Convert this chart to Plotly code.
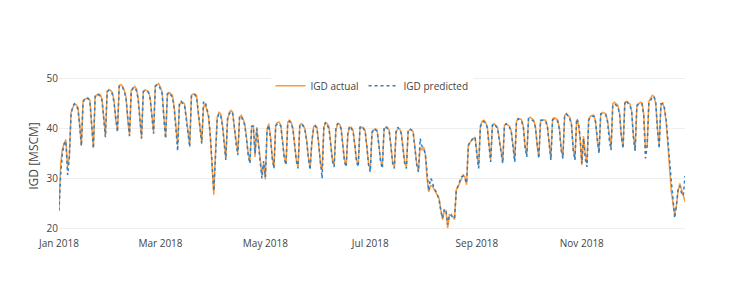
import pandas as pd
import plotly.graph_objects as go

# Daily dates for 2018
dates = pd.date_range("2018-01-01", "2018-12-31", freq="D")

# IGD actual, read week by week (Mon..Sun)
igd_actual = [
    24.0, 33.0, 36.0, 37.0, 37.8, 32.3, 34.5,
    43.3, 44.3, 45.0, 44.8, 44.3, 41.0, 36.7,
    45.7, 46.0, 46.1, 46.2, 45.7, 40.7, 36.3,
    46.3, 46.8, 47.0, 46.8, 46.0, 41.7, 38.7,
    47.3, 47.9, 47.7, 47.3, 45.7, 41.7, 39.7,
    48.7, 48.9, 48.5, 47.7, 46.3, 41.7, 38.7,
    47.7, 48.0, 48.5, 48.0, 46.3, 41.7, 38.3,
    47.3, 47.8, 47.7, 47.5, 46.3, 42.3, 39.3,
    48.7, 49.0, 49.1, 48.3, 47.3, 42.3, 38.3,
    46.7, 47.3, 47.0, 46.7, 44.3, 40.3, 36.7,
    44.7, 45.3, 45.3, 45.0, 42.3, 39.0, 36.7,
    46.7, 47.0, 47.0, 46.7, 43.0, 39.7, 37.3,
    44.3, 45.0, 43.7, 42.3, 38.3, 31.7, 26.7,
    35.0, 42.3, 43.3, 43.0, 41.0, 37.0, 34.0,
    41.7, 43.3, 43.7, 43.3, 40.0, 37.0, 35.2,
    42.3, 42.7, 42.0, 41.0, 38.3, 35.0, 33.3,
    40.3, 40.7, 34.3, 40.3, 37.0, 33.3, 30.7,
    33.0, 29.8, 40.0, 41.0, 38.3, 34.3, 32.3,
    40.7, 41.3, 41.3, 40.7, 37.7, 34.3, 33.0,
    41.3, 41.7, 41.3, 40.0, 37.0, 33.7, 32.3,
    40.7, 41.0, 40.7, 40.0, 37.7, 34.3, 32.0,
    37.0, 40.3, 40.7, 40.3, 37.0, 33.0, 31.7,
    40.3, 41.1, 41.0, 40.3, 37.0, 33.7, 32.7,
    39.7, 41.0, 41.0, 40.3, 37.3, 33.7, 32.7,
    39.0, 40.3, 40.3, 39.7, 37.0, 33.7, 32.7,
    40.0, 40.3, 40.2, 39.7, 36.7, 33.0, 31.7,
    39.0, 39.8, 40.0, 39.7, 37.0, 33.7, 32.3,
    39.7, 40.3, 40.3, 39.7, 36.7, 33.3, 32.3,
    39.3, 40.0, 40.0, 39.3, 36.7, 33.3, 32.3,
    39.3, 39.8, 39.8, 39.3, 36.3, 33.0, 31.5,
    36.3, 35.7, 36.3, 35.0, 30.0, 27.3, 28.5,
    28.5, 27.8, 27.3, 26.5, 26.0, 23.7, 21.7,
    23.3, 23.5, 20.0, 22.7, 22.5, 22.3, 21.7,
    27.7, 28.3, 29.0, 30.0, 30.7, 30.3, 28.7,
    36.7, 37.3, 37.7, 38.0, 38.3, 35.0, 32.3,
    40.5, 41.5, 41.7, 41.3, 40.5, 37.0, 33.7,
    40.5, 41.0, 40.7, 40.3, 38.0, 36.0, 33.3,
    40.7, 41.0, 40.7, 40.5, 39.5, 36.0, 33.7,
    41.5, 42.0, 42.0, 41.8, 40.5, 36.5, 34.7,
    42.0, 42.3, 42.0, 41.7, 40.5, 36.5, 34.3,
    41.5, 41.8, 41.7, 41.7, 40.5, 36.5, 34.0,
    42.0, 42.2, 42.0, 41.7, 40.0, 36.0, 34.3,
    42.7, 43.0, 42.7, 42.3, 41.0, 36.0, 34.0,
    41.7, 41.0, 38.0, 32.7, 38.5, 35.0, 33.0,
    42.0, 42.5, 42.7, 42.7, 41.5, 37.5, 35.3,
    43.0, 43.3, 43.2, 43.0, 41.5, 38.0, 36.0,
    45.0, 45.3, 45.0, 44.7, 43.0, 38.5, 36.3,
    45.3, 45.5, 45.3, 45.0, 43.5, 38.5, 35.7,
    44.3, 45.0, 45.3, 45.2, 43.0, 36.0, 36.5,
    45.5, 46.0, 46.7, 46.5, 45.0, 40.0, 36.7,
    44.5, 45.3, 44.0, 41.5, 37.0, 31.0, 27.5,
    25.0, 22.7, 24.5, 27.5, 29.0, 27.7, 26.5,
    25.3,
]

# IGD predicted
igd_predicted = [
    23.5, 31.0, 35.0, 37.0, 37.5, 30.7, 34.0,
    42.8, 44.5, 45.0, 44.5, 44.0, 40.5, 36.5,
    45.3, 46.0, 46.3, 46.0, 45.3, 40.3, 36.0,
    46.5, 47.0, 46.8, 46.5, 45.7, 41.3, 38.3,
    47.5, 47.7, 47.5, 47.0, 45.3, 41.5, 39.3,
    48.5, 48.7, 48.3, 47.5, 46.0, 41.3, 38.5,
    47.5, 48.2, 48.3, 47.7, 46.0, 41.5, 38.0,
    47.5, 47.7, 47.5, 47.3, 46.0, 42.0, 39.0,
    48.5, 48.8, 48.8, 48.0, 47.0, 42.0, 38.0,
    47.0, 47.3, 46.8, 46.3, 44.0, 40.0, 35.5,
    45.0, 45.5, 45.0, 44.7, 42.0, 38.7, 36.3,
    46.5, 47.0, 46.8, 46.3, 43.3, 39.5, 37.0,
    45.3, 45.5, 44.0, 42.5, 38.5, 32.0, 27.5,
    34.5, 42.0, 43.0, 42.7, 40.7, 36.7, 33.7,
    42.0, 43.0, 43.5, 43.0, 40.3, 36.7, 34.7,
    42.5, 42.5, 41.7, 40.7, 38.0, 34.7, 33.0,
    40.5, 40.5, 35.0, 40.0, 36.7, 33.0, 30.0,
    33.5, 30.3, 39.7, 40.7, 38.0, 34.0, 32.0,
    40.5, 41.0, 41.0, 40.5, 37.5, 34.0, 32.7,
    41.0, 41.5, 41.0, 40.0, 36.7, 33.5, 32.0,
    40.5, 41.0, 40.5, 39.7, 37.5, 34.0, 31.7,
    37.5, 40.0, 40.5, 40.0, 36.7, 32.7, 30.0,
    40.5, 41.3, 40.7, 40.0, 36.7, 33.5, 32.3,
    40.0, 41.0, 40.7, 40.0, 37.0, 33.3, 32.3,
    39.3, 40.5, 40.0, 39.5, 36.7, 33.3, 32.3,
    40.3, 40.5, 40.0, 39.5, 36.5, 32.7, 31.3,
    39.3, 40.0, 39.8, 39.5, 36.7, 33.3, 32.0,
    40.0, 40.5, 40.0, 39.5, 36.5, 33.0, 32.0,
    39.5, 40.3, 39.8, 39.0, 36.3, 33.0, 32.0,
    39.5, 40.0, 39.7, 39.0, 36.0, 32.7, 31.3,
    38.0, 36.5, 36.0, 35.0, 30.5, 27.5, 30.0,
    29.5, 28.0, 27.5, 26.7, 25.7, 23.5, 22.0,
    23.7, 23.7, 20.7, 22.5, 22.7, 22.0, 22.0,
    27.5, 28.5, 29.3, 30.3, 30.5, 30.0, 29.0,
    36.5, 37.5, 37.7, 38.3, 38.0, 34.7, 32.0,
    40.3, 41.3, 41.5, 41.0, 40.3, 36.7, 33.3,
    40.7, 41.0, 40.5, 40.0, 37.7, 35.7, 33.0,
    40.5, 41.0, 40.5, 40.3, 39.3, 35.7, 33.3,
    41.3, 42.0, 41.7, 41.5, 40.3, 36.3, 34.3,
    42.0, 42.0, 41.8, 41.5, 40.3, 36.3, 34.0,
    41.7, 41.7, 41.5, 41.5, 40.3, 36.3, 33.7,
    41.7, 42.0, 41.7, 41.5, 39.7, 35.7, 34.0,
    42.5, 43.0, 42.5, 42.0, 40.7, 35.7, 33.7,
    42.0, 41.3, 38.5, 33.0, 38.0, 34.0, 32.3,
    41.7, 42.3, 42.5, 42.5, 41.3, 37.3, 35.0,
    43.0, 43.0, 43.0, 42.7, 41.3, 37.7, 35.7,
    44.7, 45.0, 44.7, 44.5, 42.7, 38.3, 36.0,
    45.0, 45.7, 45.0, 44.7, 43.3, 38.3, 35.5,
    44.7, 45.0, 45.0, 45.0, 42.7, 34.0, 36.5,
    45.3, 45.7, 46.3, 46.5, 45.3, 39.7, 36.0,
    45.0, 45.0, 44.3, 42.0, 38.0, 33.0, 29.5,
    26.0, 22.0, 24.5, 28.0, 28.5, 27.0, 26.5,
    30.5,
]

fig = go.Figure()
fig.add_trace(go.Scatter(
    x=dates, y=igd_actual, mode="lines", name="IGD actual",
    line=dict(color="#ff9a3c", width=1.5),
))
fig.add_trace(go.Scatter(
    x=dates, y=igd_predicted, mode="lines", name="IGD predicted",
    line=dict(color="#2f7fc1", width=1.5, dash="dot"),
))

# the page body adds an 8px margin, so the figure is sized to fit the remaining area
fig.update_layout(
    template="plotly_white",
    width=739, height=294,
    margin=dict(l=51, r=62, t=68, b=66),
    font=dict(family="Open Sans", size=10, color="#444"),
    legend=dict(orientation="h", x=0.5, xanchor="center", y=1.03, yanchor="top",
                bgcolor="white", font=dict(size=10)),
    showlegend=True,
)
fig.update_xaxes(
    range=["2018-01-01", "2018-12-31"],
    dtick="M2", tickformat="%b %Y", showgrid=False, zeroline=False,
)
fig.update_yaxes(
    range=[18.4, 50.6], dtick=10, gridcolor="#eeeeee", zeroline=False,
    title=dict(text="IGD [MSCM]", font=dict(size=12), standoff=5),
)

fig.write_html("out.html")
